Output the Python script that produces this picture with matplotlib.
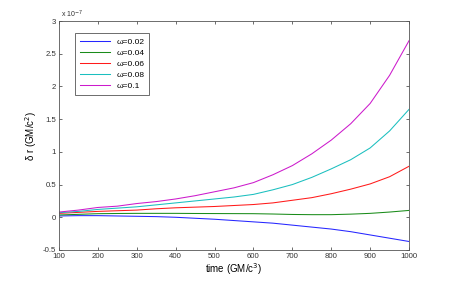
import matplotlib

matplotlib.use("Agg")
import matplotlib.pyplot as plt

plt.rcParams["font.family"] = ["Liberation Sans", "DejaVu Sans"]
plt.rcParams["axes.unicode_minus"] = False

# time samples (GM/c^3) and delta r in units of 1e-7 GM/c^2
time = [100, 150, 200, 250, 300, 350, 400, 450, 500, 550,
        600, 650, 700, 750, 800, 850, 900, 950, 1000]
dr_002 = [0.02, 0.025, 0.025, 0.02, 0.015, 0.01, 0.0, -0.015, -0.03, -0.05,
          -0.07, -0.09, -0.12, -0.15, -0.18, -0.22, -0.27, -0.32, -0.37]
dr_004 = [0.035, 0.045, 0.055, 0.058, 0.06, 0.06, 0.06, 0.058, 0.057, 0.056,
          0.055, 0.05, 0.043, 0.04, 0.04, 0.048, 0.06, 0.08, 0.105]
dr_006 = [0.06, 0.075, 0.09, 0.10, 0.11, 0.13, 0.145, 0.155, 0.165, 0.18,
          0.195, 0.22, 0.26, 0.30, 0.36, 0.43, 0.51, 0.62, 0.78]
dr_008 = [0.07, 0.09, 0.12, 0.14, 0.16, 0.19, 0.22, 0.25, 0.28, 0.31,
          0.35, 0.42, 0.50, 0.61, 0.74, 0.88, 1.06, 1.32, 1.65]
dr_010 = [0.08, 0.11, 0.15, 0.17, 0.21, 0.24, 0.28, 0.33, 0.39, 0.45,
          0.53, 0.65, 0.79, 0.97, 1.18, 1.43, 1.74, 2.17, 2.70]

series = [
    ("ω=0.02", dr_002, (0.15, 0.15, 1.0)),
    ("ω=0.04", dr_004, (0.1, 0.55, 0.1)),
    ("ω=0.06", dr_006, (1.0, 0.1, 0.1)),
    ("ω=0.08", dr_008, (0.1, 0.75, 0.75)),
    ("ω=0.1", dr_010, (0.8, 0.1, 0.8)),
]

fig = plt.figure(figsize=(4.52, 2.82), dpi=100)
ax = fig.add_axes([0.1305, 0.1135, 0.7745, 0.812])

for label, vals, c in series:
    ax.plot(time, vals, color=c, lw=0.75, label=label)

ax.set_xlim(100, 1000)
ax.set_ylim(-0.5, 3)
ax.set_xticks(range(100, 1001, 100))
ax.set_yticks([-0.5, 0, 0.5, 1, 1.5, 2, 2.5, 3])
ax.set_yticklabels(["-0.5", "0", "0.5", "1", "1.5", "2", "2.5", "3"])
ax.tick_params(direction="in", length=2.5, width=0.5, labelsize=5.6,
               top=True, right=True, colors="#333333", pad=2)
for s in ax.spines.values():
    s.set_linewidth(0.6)
    s.set_color("#555555")

ax.set_xlabel("time (GM/c$^3$)", fontsize=7, labelpad=1)
ax.set_ylabel("δ r (GM/c$^2$)", fontsize=7, labelpad=3)
ax.text(0.005, 1.005, "x 10$^{-7}$", transform=ax.transAxes, fontsize=5,
        color="#333333", va="bottom", ha="left")

leg = ax.legend(loc="upper left", bbox_to_anchor=(0.035, 0.965), fontsize=6,
                handlelength=3.6, handletextpad=0.8, labelspacing=0.4,
                borderpad=0.55, fancybox=False, framealpha=1)
leg.get_frame().set_edgecolor("#555555")
leg.get_frame().set_linewidth(0.6)

fig.savefig("out.png", dpi=100)
